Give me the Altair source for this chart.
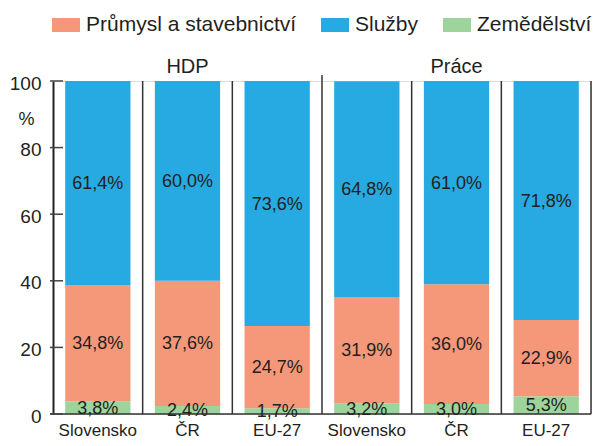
import altair as alt
import pandas as pd

# ---- data ----
groups = ["HDP", "HDP", "HDP", "Práce", "Práce", "Práce"]
countries = ["Slovensko", "ČR", "EU-27", "Slovensko", "ČR", "EU-27"]
agri = [3.8, 2.4, 1.7, 3.2, 3.0, 5.3]          # Zemědělství
industry = [34.8, 37.6, 24.7, 31.9, 36.0, 22.9]  # Průmysl a stavebnictví
services = [61.4, 60.0, 73.6, 64.8, 61.0, 71.8]  # Služby

sector_names = ["Průmysl a stavebnictví", "Služby", "Zemědělství"]
sector_colors = ["#F5987A", "#27A9E1", "#9DD49B"]
y_ticks = [0, 20, 40, 60, 80, 100]

FONT = "Liberation Sans"
TXT = "#231F20"

keys = [f"{g}|{c}" for g, c in zip(groups, countries)]

rows = []
for i, k in enumerate(keys):
    start = 0.0
    for name, vals in (("Zemědělství", agri), ("Průmysl a stavebnictví", industry), ("Služby", services)):
        v = vals[i]
        rows.append({
            "key": k, "sector": name, "start": start, "end": start + v,
            "mid": start + v / 2,
            "label": f"{v:.1f}".replace(".", ",") + "%",
        })
        start += v
df = pd.DataFrame(rows)

W, H = 538, 333
step = W / len(keys)

# separators at right edge of each slot; the group divider is taller
sep_top = [100, 100, 101.8, 100, 100, 100]
sep_df = pd.DataFrame({"key": keys, "top": sep_top, "bottom": [0] * len(keys)})

grp_df = pd.DataFrame({"key": ["HDP|ČR", "Práce|ČR"], "text": ["HDP", "Práce"], "yv": [102.5, 102.5]})
tick_df = pd.DataFrame({"v": y_ticks})

yscale = alt.Scale(domain=[0, 100], nice=False)
xenc = alt.X(
    "key:N", sort=keys,
    scale=alt.Scale(paddingInner=0.272, paddingOuter=0.136),
    axis=alt.Axis(title=None, labelExpr="split(datum.value,'|')[1]", labelAngle=0,
                  ticks=False, domain=False, labelPadding=8, labelFontSize=17,
                  labelFont=FONT, labelColor=TXT),
)

bars = alt.Chart(df).mark_bar().encode(
    x=xenc,
    y=alt.Y("start:Q", scale=yscale,
            axis=alt.Axis(values=y_ticks, title="%", titleAngle=0, titleX=-27, titleY=38,
                          titleAlign="center", titleBaseline="middle", titleFontWeight="normal",
                          titleFontSize=18, titleFont=FONT, titleColor=TXT,
                          grid=False, ticks=False, labelPadding=12, labelFontSize=19,
                          labelFont=FONT, labelColor=TXT, labelOffset=2,
                          domainColor="#222222", domainWidth=2)),
    y2="end:Q",
    color=alt.Color("sector:N",
                    scale=alt.Scale(domain=sector_names, range=sector_colors),
                    legend=alt.Legend(title=None, orient="none", legendX=-1, legendY=-70,
                                      direction="horizontal",
                                      symbolType="M-1,-0.5L1,-0.5L1,0.5L-1,0.5Z",
                                      symbolSize=784, symbolStrokeWidth=0, symbolOpacity=1,
                                      labelFontSize=21, labelFont=FONT, labelColor=TXT,
                                      labelLimit=400, labelOffset=6, columnPadding=24)),
)

baseline = alt.Chart(tick_df).transform_filter("datum.v == 0").mark_rule(
    color="#333333", strokeWidth=1.5
).encode(y=alt.Y("v:Q", scale=yscale), x=alt.value(-3), x2=alt.value(W))

ticks = alt.Chart(tick_df).mark_rule(color="#444444", strokeWidth=1.5).encode(
    y=alt.Y("v:Q", scale=yscale), x=alt.value(-3), x2=alt.value(10)
)

seps = alt.Chart(sep_df).mark_rule(color="#333333", strokeWidth=1.5, xOffset=step / 2).encode(
    x=alt.X("key:N", sort=keys), y=alt.Y("top:Q", scale=yscale), y2="bottom:Q"
)

labels = alt.Chart(df).mark_text(fontSize=18, font=FONT, color=TXT, baseline="middle", dy=1).encode(
    x=alt.X("key:N", sort=keys), y=alt.Y("mid:Q", scale=yscale), text="label:N"
)

grp = alt.Chart(grp_df).mark_text(fontSize=20, font=FONT, color=TXT, baseline="alphabetic").encode(
    x=alt.X("key:N", sort=keys), y=alt.Y("yv:Q", scale=yscale), text="text:N"
)

chart = alt.layer(bars, baseline, seps, ticks, labels, grp).properties(
    width=W, height=H,
    autosize=alt.AutoSizeParams(type="none"),
    padding={"left": 45, "top": 73, "right": 1, "bottom": 24},
).configure_view(stroke=None).configure(font=FONT)

chart.save("out.html", embed_options={"renderer": "svg", "actions": False})
